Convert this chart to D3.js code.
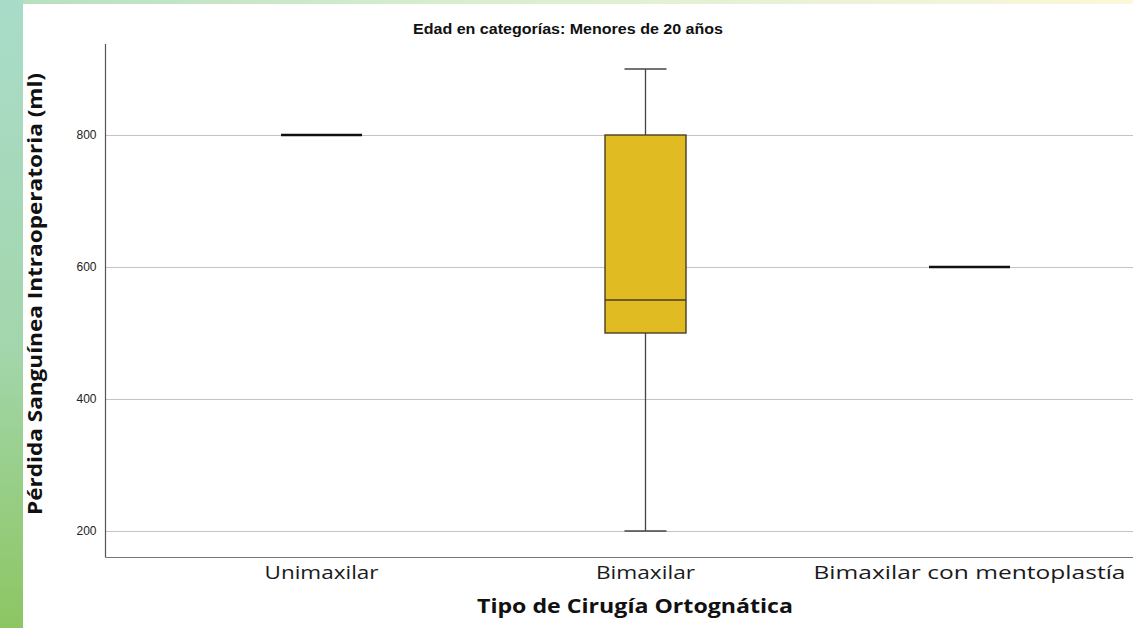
<!DOCTYPE html>
<html><head><meta charset="utf-8">
<script src="https://cdn.jsdelivr.net/npm/d3@7"></script>
<style>body{margin:0;background:#fff;}svg{display:block;}</style>
</head><body>
<svg id="c" width="1133" height="628"></svg>
<script>
const categories = ["Unimaxilar", "Bimaxilar", "Bimaxilar con mentoplastía"];
const categoryLabelWidths = [114, 99, 312];
const whiskerLow = [800, 200, 600];
const q1 = [800, 500, 600];
const median = [800, 550, 600];
const q3 = [800, 800, 600];
const whiskerHigh = [800, 900, 600];
const yTicks = [200, 400, 600, 800];
const title = "Edad en categorías: Menores de 20 años";
const xTitle = "Tipo de Cirugía Ortognática";
const yTitle = "Pérdida Sanguínea Intraoperatoria (ml)";

const svg = d3.select("#c");
const defs = svg.append("defs");
const lg = defs.append("linearGradient").attr("id","lg").attr("x1",0).attr("y1",0).attr("x2",0).attr("y2",1);
lg.append("stop").attr("offset","0%").attr("stop-color","#a9dcc9");
lg.append("stop").attr("offset","55%").attr("stop-color","#a3d6ac");
lg.append("stop").attr("offset","100%").attr("stop-color","#8cc662");
const tg = defs.append("linearGradient").attr("id","tg").attr("x1",0).attr("y1",0).attr("x2",1).attr("y2",0);
tg.append("stop").attr("offset","0%").attr("stop-color","#b5dfc0");
tg.append("stop").attr("offset","40%").attr("stop-color","#d8edd0");
tg.append("stop").attr("offset","100%").attr("stop-color","#fbf7da");
svg.append("rect").attr("x",0).attr("y",0).attr("width",1133).attr("height",4).attr("fill","url(#tg)");
svg.append("rect").attr("x",0).attr("y",0).attr("width",23).attr("height",628).attr("fill","url(#lg)");

const y = d3.scaleLinear().domain([160.6, 937.9]).range([557, 44]);
const x = d3.scaleBand().domain(categories).range([159.5, 1131.5]).padding(0);
const axisX0 = 105.5;

// gridlines
svg.append("g").selectAll("line").data(yTicks).join("line")
  .attr("x1", axisX0).attr("x2", 1133)
  .attr("y1", d => Math.round(y(d)) + 0.5).attr("y2", d => Math.round(y(d)) + 0.5)
  .attr("stroke", "#c4c4c4").attr("stroke-width", 1.2);

// y axis
const yAxis = d3.axisLeft(y).tickValues(yTicks).tickSize(0).tickPadding(9).tickFormat(d3.format("d"));
const gy = svg.append("g").attr("transform", `translate(${axisX0},0)`).call(yAxis);
gy.select(".domain").remove();
gy.selectAll("text").attr("font-family","Arial, 'Liberation Sans', sans-serif").attr("font-size",12).attr("fill","#222");
svg.append("line").attr("x1",axisX0).attr("x2",axisX0).attr("y1",44).attr("y2",557.5).attr("stroke","#555").attr("stroke-width",1.2);
svg.append("line").attr("x1",axisX0).attr("x2",1133).attr("y1",557.5).attr("y2",557.5).attr("stroke","#777").attr("stroke-width",1.2);

// x axis labels
const xAxis = d3.axisBottom(x).tickSize(0).tickPadding(9);
const gx = svg.append("g").attr("transform","translate(0,557)").call(xAxis);
gx.select(".domain").remove();
gx.selectAll("text").attr("font-family","'Open Sans', sans-serif").attr("font-size",19).attr("fill","#1a1a1a")
  .attr("textLength", (d,i) => categoryLabelWidths[i]).attr("lengthAdjust","spacingAndGlyphs");

// boxes
const data = categories.map((c,i)=>({c, lo:whiskerLow[i], q1:q1[i], med:median[i], q3:q3[i], hi:whiskerHigh[i]}));
const bw = x.bandwidth()*0.25;
const cw = 42;
const g = svg.append("g");
data.forEach(d => {
  const cx = x(d.c) + x.bandwidth()/2;
  if (d.q3 - d.q1 > 0) {
    g.append("line").attr("x1",cx).attr("x2",cx).attr("y1",y(d.hi)).attr("y2",y(d.q3)).attr("stroke","#444").attr("stroke-width",1.3);
    g.append("line").attr("x1",cx).attr("x2",cx).attr("y1",y(d.q1)).attr("y2",y(d.lo)).attr("stroke","#444").attr("stroke-width",1.3);
    g.append("line").attr("x1",cx-cw/2).attr("x2",cx+cw/2).attr("y1",y(d.hi)).attr("y2",y(d.hi)).attr("stroke","#444").attr("stroke-width",1.3);
    g.append("line").attr("x1",cx-cw/2).attr("x2",cx+cw/2).attr("y1",y(d.lo)).attr("y2",y(d.lo)).attr("stroke","#444").attr("stroke-width",1.3);
    g.append("rect").attr("x",cx-bw/2).attr("y",y(d.q3)).attr("width",bw).attr("height",y(d.q1)-y(d.q3))
      .attr("fill","#e0bc22").attr("stroke","#4a3d24").attr("stroke-width",1.4);
    g.append("line").attr("x1",cx-bw/2).attr("x2",cx+bw/2).attr("y1",y(d.med)).attr("y2",y(d.med)).attr("stroke","#4a3d24").attr("stroke-width",1.6);
  } else {
    g.append("line").attr("x1",cx-bw/2).attr("x2",cx+bw/2).attr("y1",y(d.med)).attr("y2",y(d.med)).attr("stroke","#111").attr("stroke-width",2.6);
  }
});

// titles
svg.append("text").attr("x",568).attr("y",34).attr("text-anchor","middle")
  .attr("font-family","Arial, 'Liberation Sans', sans-serif").attr("font-weight","bold").attr("font-size",14).attr("fill","#111")
  .attr("textLength",310).attr("lengthAdjust","spacingAndGlyphs").text(title);
svg.append("text").attr("x",635).attr("y",613).attr("text-anchor","middle")
  .attr("font-family","'Open Sans', sans-serif").attr("font-weight","bold").attr("font-size",19).attr("fill","#111")
  .attr("textLength",316).attr("lengthAdjust","spacingAndGlyphs").text(xTitle);
svg.append("text").attr("transform","translate(42,294) rotate(-90)").attr("text-anchor","middle")
  .attr("font-family","'Open Sans', sans-serif").attr("font-weight","bold").attr("font-size",19).attr("fill","#111")
  .attr("textLength",442).attr("lengthAdjust","spacingAndGlyphs").text(yTitle);
</script>
</body></html>
